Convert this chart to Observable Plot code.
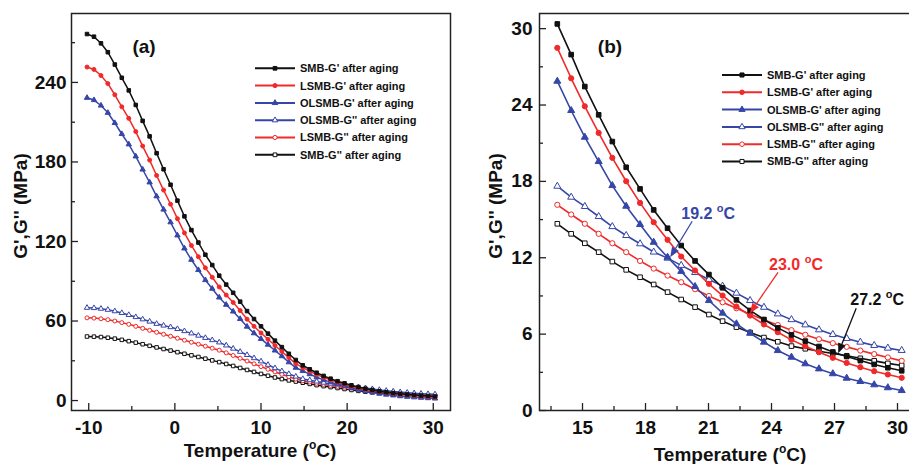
<!DOCTYPE html>
<html><head><meta charset="utf-8">
<script src="https://cdn.jsdelivr.net/npm/d3@7"></script>
<script src="https://cdn.jsdelivr.net/npm/@observablehq/plot@0.6"></script>
<style>
html,body{margin:0;padding:0;background:#fff;}
#wrap{position:relative;width:909px;height:464px;overflow:hidden;background:#fff;}
#pa{position:absolute;left:0;top:0;width:460px;height:464px;}
#pb{position:absolute;left:460px;top:0;width:460px;height:464px;}
svg{max-width:none !important;}
</style></head><body>
<div id="wrap"><div id="pa"></div><div id="pb"></div></div>
<script>
// ---------- data: panel (a) ----------
const tempA = [-10.2, -9.39, -8.58, -7.78, -6.97, -6.16, -5.35, -4.54, -3.74, -2.93, -2.12, -1.31, -0.5, 0.3, 1.11, 1.92, 2.73, 3.54, 4.34, 5.15, 5.96, 6.77, 7.58, 8.38, 9.19, 10.0, 10.81, 11.62, 12.42, 13.23, 14.04, 14.85, 15.66, 16.46, 17.27, 18.08, 18.89, 19.7, 20.5, 21.31, 22.12, 22.93, 23.74, 24.54, 25.35, 26.16, 26.97, 27.78, 28.58, 29.39, 30.2];
const smbG1A = [276.5, 274.5, 269.5, 262.8, 253.5, 243.5, 234, 223, 211, 199.3, 186.6, 174.5, 162.8, 150.8, 139, 128.6, 119.2, 110, 102.2, 94.2, 87.5, 81.3, 74.6, 67.5, 61.5, 56, 50.5, 45.2, 40.3, 35.3, 30.6, 26.6, 23.6, 21, 18.6, 16.5, 14.6, 13, 11.5, 10.2, 9, 8, 7.05, 6.3, 5.65, 5.1, 4.6, 4.2, 3.8, 3.45, 3.1];
const lsmbG1A = [251.6, 249.8, 245.2, 239.1, 230.7, 221.6, 212.9, 202.9, 192, 181.4, 169.8, 158.8, 148.1, 137.2, 126.5, 117, 108.5, 100.1, 93, 85.7, 79.6, 74, 67.9, 61.4, 56, 51, 46.2, 41.5, 37, 32.4, 27.8, 24.8, 22.1, 19.7, 17.5, 15.5, 13.75, 12.1, 10.8, 9.55, 8.45, 7.5, 6.65, 5.95, 5.25, 4.65, 4.1, 3.65, 3.25, 2.9, 2.57];
const olsmbG1A = [228.4, 226.7, 222.6, 217.1, 209.4, 201.1, 193.3, 184.2, 174.3, 164.6, 154.1, 144.1, 134.5, 124.6, 114.8, 106.2, 98.5, 90.9, 84.4, 77.8, 72.3, 67.2, 61.6, 55.8, 50.8, 46.5, 42.2, 37.8, 33.5, 28.9, 24.8, 22.3, 19.9, 17.55, 15.6, 13.9, 12.3, 10.93, 9.5, 8.2, 7.1, 6.15, 5.27, 4.5, 3.9, 3.3, 2.87, 2.46, 2.14, 1.84, 1.57];
const olsmbG2A = [70, 69.8, 69.3, 68.5, 67.4, 66.1, 64.6, 63, 61.3, 59.6, 57.9, 56.6, 55.4, 54, 52.4, 50.7, 49, 47.3, 45.6, 43.9, 41.6, 39.2, 36.8, 34.4, 32, 29.6, 27, 24.5, 22.2, 20.1, 18.1, 16.3, 15.4, 14.4, 13.5, 12.75, 12.1, 11.4, 10.75, 10.05, 9.4, 8.68, 8.03, 7.42, 6.9, 6.4, 5.95, 5.57, 5.23, 4.95, 4.72];
const lsmbG2A = [62.4, 62.2, 61.7, 61, 60, 58.8, 57.5, 56, 54.5, 53, 51.5, 50, 48.5, 47, 45.5, 44, 42.5, 41, 39.5, 38, 36, 34, 31.9, 29.8, 27.7, 25.6, 23.6, 21.6, 19.8, 18, 16.2, 14.95, 14, 13.1, 12.2, 11.43, 10.78, 10.08, 9.42, 8.78, 8.18, 7.6, 7.06, 6.56, 6.09, 5.65, 5.27, 4.91, 4.56, 4.23, 3.9];
const smbG2A = [48.3, 48.2, 47.9, 47.4, 46.7, 45.8, 44.8, 43.7, 42.5, 41.3, 40.1, 38.9, 37.7, 36.5, 35.3, 34.1, 32.9, 31.6, 30.3, 29, 27.6, 26.1, 24.6, 23.1, 21.6, 20.1, 18.7, 17.4, 16.2, 15.2, 14.35, 13.45, 12.55, 11.66, 10.88, 10.17, 9.45, 8.72, 8.0, 7.31, 6.7, 6.16, 5.68, 5.27, 4.93, 4.69, 4.47, 4.24, 3.99, 3.75, 3.53];

// ---------- data: panel (b) ----------
const tempB = [13.8, 14.46, 15.11, 15.77, 16.42, 17.08, 17.74, 18.39, 19.05, 19.7, 20.36, 21.02, 21.67, 22.33, 22.98, 23.64, 24.3, 24.95, 25.61, 26.26, 26.92, 27.58, 28.23, 28.89, 29.54, 30.2];
const smbG1B = [30.37, 27.96, 25.45, 23.23, 21.13, 19.11, 17.41, 15.76, 14.32, 12.96, 11.75, 10.68, 9.64, 8.69, 7.86, 7.15, 6.49, 5.94, 5.45, 5.03, 4.6, 4.24, 3.92, 3.62, 3.36, 3.12];
const lsmbG1B = [28.49, 26.1, 23.9, 21.81, 19.85, 18.01, 16.31, 14.79, 13.41, 12.1, 11.0, 9.95, 9.03, 8.17, 7.46, 6.76, 6.15, 5.55, 5.05, 4.58, 4.14, 3.74, 3.4, 3.09, 2.83, 2.57];
const olsmbG1B = [25.87, 23.57, 21.47, 19.56, 17.67, 16.05, 14.61, 13.22, 12.04, 10.93, 9.74, 8.64, 7.65, 6.81, 6.07, 5.37, 4.71, 4.19, 3.67, 3.27, 2.89, 2.54, 2.28, 2.02, 1.79, 1.57];
const olsmbG2B = [17.62, 16.76, 16.03, 15.24, 14.45, 13.75, 13.1, 12.45, 11.97, 11.4, 10.84, 10.29, 9.77, 9.22, 8.64, 8.11, 7.59, 7.14, 6.73, 6.34, 5.97, 5.66, 5.37, 5.11, 4.9, 4.72];
const lsmbG2B = [16.16, 15.4, 14.67, 13.88, 13.14, 12.44, 11.75, 11.15, 10.6, 10.08, 9.53, 9.0, 8.5, 8.03, 7.57, 7.12, 6.71, 6.31, 5.95, 5.6, 5.29, 5.0, 4.71, 4.43, 4.17, 3.9];
const smbG2B = [14.67, 13.88, 13.14, 12.44, 11.7, 11.05, 10.47, 9.9, 9.3, 8.72, 8.12, 7.54, 7.02, 6.55, 6.13, 5.73, 5.4, 5.06, 4.85, 4.66, 4.48, 4.3, 4.1, 3.9, 3.7, 3.53];

// ---------- labels & ticks ----------
const seriesLabels = ["SMB-G' after aging", "LSMB-G' after aging", "OLSMB-G' after aging", "OLSMB-G'' after aging", "LSMB-G'' after aging", "SMB-G'' after aging"];
const xTicksA = [-10, 0, 10, 20, 30];
const xMinorA = [-5, 5, 15, 25];
const yTicksA = [0, 60, 120, 180, 240];
const yMinorA = [30, 90, 150, 210, 270];
const xTicksB = [15, 18, 21, 24, 27, 30];
const xMinorB = [13.5, 16.5, 19.5, 22.5, 25.5, 28.5];
const yTicksB = [0, 6, 12, 18, 24, 30];
const yMinorB = [3, 9, 15, 21, 27];
const crossTemps = [19.2, 23.0, 27.2];
const crossModuli = [12.0, 7.6, 4.45];
const crossLabels = ["19.2 ", "23.0 ", "27.2 "];

// ---------- styles ----------
const FONT = "'Liberation Sans', Arial, Helvetica, sans-serif";
const BLACK = "#111111", RED = "#f02a2a", BLUE = "#3646a8";
const seriesColor = [BLACK, RED, BLUE, BLUE, RED, BLACK];
const seriesSymbol = ["square", "circle", "triangle", "triangle", "circle", "square"];
const d3Symbol = [d3.symbolSquare, d3.symbolCircle, d3.symbolTriangle, d3.symbolTriangle, d3.symbolCircle, d3.symbolSquare];
const seriesOpen = [false, false, false, true, true, true];
const crossColors = [BLUE, RED, BLACK];

const H = 464, MT = 13, MB = 54;

function panel(cfg) {
  const innerW = cfg.width - cfg.ml - cfg.mr, innerH = H - MT - MB;
  const marks = [];
  for (const i of [5, 4, 3, 2, 1, 0]) {
    const rows = cfg.temps.map((t, j) => ({t, v: cfg.series[i][j]}));
    marks.push(Plot.line(rows, {x: "t", y: "v", stroke: seriesColor[i], strokeWidth: cfg.lw}));
    marks.push(Plot.dot(rows, {x: "t", y: "v", symbol: seriesSymbol[i], r: cfg.r,
      fill: seriesOpen[i] ? "white" : seriesColor[i], stroke: seriesColor[i], strokeWidth: 1}));
  }
  marks.push(
    Plot.tickX(cfg.xTicks, {x: d => d, insetTop: innerH - 7, stroke: "#222", strokeWidth: 1.3}),
    Plot.tickX(cfg.xMinor, {x: d => d, insetTop: innerH - 4, stroke: "#222", strokeWidth: 1.3}),
    Plot.tickY(cfg.yTicks, {y: d => d, insetRight: innerW - 7, stroke: "#222", strokeWidth: 1.3}),
    Plot.tickY(cfg.yMinor, {y: d => d, insetRight: innerW - 4, stroke: "#222", strokeWidth: 1.3}),
    Plot.axisX({ticks: cfg.xTicks, tickSize: 0, tickPadding: 10, label: null, tickFormat: d => String(d)}),
    Plot.axisY({ticks: cfg.yTicks, tickSize: 0, tickPadding: cfg.padY, label: null, tickFormat: d => String(d)}),
    Plot.frame({stroke: "#222", strokeWidth: 1.5})
  );
  const svg = Plot.plot({
    width: cfg.width, height: H,
    marginLeft: cfg.ml, marginRight: cfg.mr, marginTop: MT, marginBottom: MB,
    x: {domain: cfg.xDomain}, y: {domain: cfg.yDomain},
    style: {fontFamily: FONT, fontSize: "19px", fontWeight: "bold", color: "#111", background: "transparent", overflow: "visible"},
    marks
  });
  svg.style.maxWidth = "none";
  const s = d3.select(svg);
  // axis titles with superscript
  const xl = s.append("text").attr("x", cfg.ml + cfg.xTitleDx).attr("y", cfg.xTitleY)
    .attr("text-anchor", "middle").attr("font-family", FONT).attr("font-weight", "bold")
    .attr("font-size", 19).attr("fill", "#111");
  xl.append("tspan").text("Temperature (");
  xl.append("tspan").attr("font-size", 12).attr("dy", -8).text("o");
  xl.append("tspan").attr("dy", 8).text("C)");
  s.append("text").attr("transform", `translate(${cfg.yTitleX},206) rotate(-90)`)
    .attr("text-anchor", "middle").attr("font-family", FONT).attr("font-weight", "bold")
    .attr("font-size", 19).attr("fill", "#111").text("G',G'' (MPa)");
  // panel tag
  s.append("text").attr("x", cfg.tagX).attr("y", 53).attr("text-anchor", "middle")
    .attr("font-family", FONT).attr("font-weight", "bold").attr("font-size", 19).attr("fill", "#111").text(cfg.tag);
  // legend
  const g = s.append("g").attr("font-family", FONT).attr("font-weight", "bold").attr("font-size", 11)
    .attr("fill", "#111").attr("text-anchor", "start");
  seriesLabels.forEach((lab, i) => {
    const y = cfg.legY + i * 17.3;
    g.append("line").attr("x1", cfg.legX).attr("x2", cfg.legX + 40).attr("y1", y).attr("y2", y)
      .attr("stroke", seriesColor[i]).attr("stroke-width", 2);
    g.append("path").attr("d", d3.symbol(d3Symbol[i], Math.PI * cfg.lr * cfg.lr)())
      .attr("transform", `translate(${cfg.legX + 20},${y})`)
      .attr("fill", seriesOpen[i] ? "white" : seriesColor[i]).attr("stroke", seriesColor[i]).attr("stroke-width", 1);
    g.append("text").attr("x", cfg.legX + 45).attr("y", y).attr("dy", "0.36em").attr("text-anchor", "start").text(lab);
  });
  return svg;
}

const svgA = panel({
  temps: tempA, series: [smbG1A, lsmbG1A, olsmbG1A, olsmbG2A, lsmbG2A, smbG2A],
  width: 460, ml: 71, mr: 10, xDomain: [-12, 32], yDomain: [-7.5, 292],
  xTicks: xTicksA, xMinor: xMinorA, yTicks: yTicksA, yMinor: yMinorA,
  padY: 5, r: 2.0, lr: 2.1, lw: 1.5, xTitleDx: 189, xTitleY: 457, yTitleX: 27,
  tag: "(a)", tagX: 144, legX: 255, legY: 68.3
});
document.getElementById("pa").appendChild(svgA);

const svgB = panel({
  temps: tempB, series: [smbG1B, lsmbG1B, olsmbG1B, olsmbG2B, lsmbG2B, smbG2B],
  width: 460, ml: 79, mr: 0, xDomain: [12.952, 31.095], yDomain: [0, 31.19],
  xTicks: xTicksB, xMinor: xMinorB, yTicks: yTicksB, yMinor: yMinorB,
  padY: 7, r: 2.6, lr: 2.3, lw: 1.6, xTitleDx: 191, xTitleY: 461, yTitleX: 42,
  tag: "(b)", tagX: 150, legX: 262, legY: 75
});
document.getElementById("pb").appendChild(svgB);

// crossover annotations in panel (b)
{
  const sx = svgB.scale("x"), sy = svgB.scale("y");
  const offs = [{lx: 22, ly: -36, tx: 38, ty: -38}, {lx: 28, ly: -41, tx: 46, ty: -43}, {lx: 18, ly: -45, tx: 39, ty: -48}];
  const g = d3.select(svgB).append("g");
  crossTemps.forEach((t, i) => {
    const px = sx.apply(t), py = sy.apply(crossModuli[i]);
    const o = offs[i], c = crossColors[i];
    const x0 = px + o.lx, y0 = py + o.ly;
    const dx = px - x0, dy = py - y0, L = Math.hypot(dx, dy), ux = dx / L, uy = dy / L;
    const bx = px - ux * 10, by = py - uy * 10;
    g.append("line").attr("x1", x0).attr("y1", y0).attr("x2", bx).attr("y2", by).attr("stroke", c).attr("stroke-width", 1.3);
    g.append("path").attr("d", `M${px},${py}L${bx - uy * 4},${by + ux * 4}L${bx + uy * 4},${by - ux * 4}Z`).attr("fill", c);
    const tx = g.append("text").attr("x", px + o.tx).attr("y", py + o.ty).attr("text-anchor", "middle")
      .attr("font-family", FONT).attr("font-weight", "bold").attr("font-size", 16).attr("fill", c);
    tx.append("tspan").text(crossLabels[i]);
    tx.append("tspan").attr("font-size", 11).attr("dy", -7).text("o");
    tx.append("tspan").attr("dy", 7).text("C");
  });
}
</script>
</body></html>
